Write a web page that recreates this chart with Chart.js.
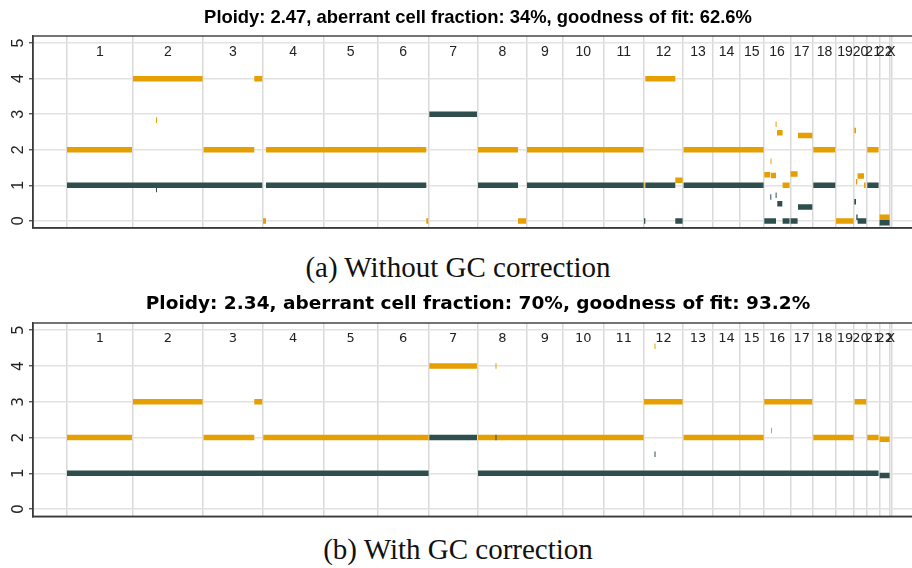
<!DOCTYPE html>
<html>
<head>
<meta charset="utf-8">
<script src="https://cdn.jsdelivr.net/npm/chart.js@4.4.0/dist/chart.umd.min.js"></script>
<style>
  html, body { margin: 0; padding: 0; background: #fff; overflow: hidden; width: 912px; height: 568px; }
  .panel { position: absolute; left: 0; width: 940px; height: 240px; }
  .caption {
    position: absolute; left: 0; width: 916px; text-align: center;
    font-family: "Liberation Serif", "Times New Roman", serif;
    font-size: 29px; line-height: 29px; color: #111; white-space: nowrap;
  }
</style>
</head>
<body>
<div class="panel" style="top:0px"><canvas id="chartA"></canvas></div>
<div class="caption" style="top:253px">(a) Without GC correction</div>
<div class="panel" style="top:287px"><canvas id="chartB"></canvas></div>
<div class="caption" style="top:535px">(b) With GC correction</div>
<script>
// Chromosome layout along the genome axis (cumulative position units)
const chromosomes = ['1','2','3','4','5','6','7','8','9','10','11','12','13','14','15','16','17','18','19','20','21','22','X'];
const chromStarts = [0, 66, 136, 195.6, 256.6, 310.6, 361.6, 410.6, 460, 496, 536.6, 577, 616, 646, 673, 696.6, 723.3, 746, 769, 787, 800, 812.3, 823];
const genomeEnd = 824.6;
const cnTicks = [0, 1, 2, 3, 4, 5];

const titleA = 'Ploidy: 2.47, aberrant cell fraction: 34%, goodness of fit: 62.6%';
const titleB = 'Ploidy: 2.34, aberrant cell fraction: 70%, goodness of fit: 93.2%';

// Segments: [start, end, copy number]
// Without GC correction
const majorA = [
  [0, 65, 2], [66, 135.6, 4], [89, 90, 2.83], [136.6, 187.3, 2], [187.3, 195.3, 4],
  [196, 199, 0], [199, 359.3, 2], [359.3, 361.3, 0],
  [411, 451, 2], [451, 459.3, 0], [460, 576.6, 2], [576.6, 577.6, 1],
  [578.3, 608.3, 4], [608.3, 615.6, 1.14], [616.6, 696.6, 2],
  [697.3, 703.3, 1.3], [703.5, 704.5, 1.68], [704, 709, 1.28], [708.6, 709.6, 2.72],
  [710, 715.6, 2.48], [715.6, 722.6, 1], [723.6, 730.6, 1.32], [731, 745.3, 2.4],
  [746.3, 768.3, 2], [769, 786.6, 0], [787.3, 789, 2.54], [789, 790.3, 1.1],
  [790.6, 797, 1.26], [797, 798.6, 1], [800.3, 811.6, 2], [812.6, 822.6, 0.1]
];
const minorA = [
  [0, 195.3, 1], [89, 90, 0.88], [199, 359.3, 1], [362.3, 410, 3], [411, 451, 1],
  [460, 576.6, 1], [577, 578.3, 0], [578.3, 608.3, 1], [608.3, 615.6, 0],
  [616.6, 696.6, 1], [697.3, 709, 0], [703.3, 704.3, 0.67], [708.6, 709.6, 0.72],
  [710.3, 715.3, 0.48], [715.6, 722.6, 0], [723.6, 730.6, 0], [731, 745.3, 0.39],
  [746.3, 768.3, 1], [787.3, 789, 0.54], [789.3, 790.6, 0.1], [790.6, 799.3, 0],
  [800.3, 811.6, 1], [812.6, 822.6, -0.05]
];
// With GC correction
const majorB = [
  [0, 65, 2], [66, 135.6, 3], [136.6, 187.3, 2], [187.3, 195.3, 3],
  [196.3, 361.6, 2], [362.3, 410, 4], [411, 576.6, 2], [428.5, 429.5, 4],
  [577, 615.6, 3], [587.5, 588.5, 4.55], [616.6, 696.6, 2], [697.3, 745.3, 3],
  [704, 705, 2.2], [746.3, 786.6, 2], [787.6, 799.3, 3], [800.3, 811.6, 2],
  [812.6, 822.6, 1.95]
];
const minorB = [
  [0, 361.6, 1], [362.3, 410, 2], [411, 811.6, 1], [428.5, 429.5, 2],
  [587.5, 588.5, 1.53], [812.6, 822.6, 0.94]
];

const ORANGE = '#E69F00';
const DARK = '#2F4F4F';
const FRAME = '#3a3a3a';

function toPoints(segs) {
  const pts = [];
  segs.forEach(([s, e, cn]) => {
    pts.push({ x: s, y: cn }, { x: e, y: cn }, { x: e, y: null });
  });
  return pts;
}

const boundaries = chromStarts.concat([genomeEnd]);

// Frame, chromosome names, rotated copy-number labels and panel title
const panelDecor = {
  id: 'panelDecor',
  afterDatasetsDraw(chart, args, opts) {
    const { ctx, chartArea: a, scales: { x, y } } = chart;
    ctx.save();
    ctx.strokeStyle = FRAME;
    ctx.lineWidth = 1.4;
    ctx.strokeRect(a.left, a.top, a.right - a.left, a.bottom - a.top);

    ctx.fillStyle = '#222';
    ctx.font = opts.labelFont;
    ctx.textAlign = 'center';
    ctx.textBaseline = 'alphabetic';
    chromosomes.forEach((c, i) => {
      const s = chromStarts[i];
      const e = i + 1 < chromStarts.length ? chromStarts[i + 1] : genomeEnd;
      ctx.fillText(c, x.getPixelForValue((s + e) / 2), a.top + opts.labelOffset);
    });

    ctx.font = opts.tickFont;
    ctx.textAlign = 'center';
    ctx.textBaseline = 'middle';
    cnTicks.forEach(v => {
      ctx.save();
      ctx.translate(opts.tickX, y.getPixelForValue(v));
      ctx.rotate(-Math.PI / 2);
      ctx.fillText(String(v), 0, 0);
      ctx.restore();
    });

    ctx.fillStyle = '#000';
    ctx.font = opts.titleFont;
    ctx.textAlign = 'center';
    ctx.textBaseline = 'middle';
    ctx.fillText(opts.title, (a.left + a.right) / 2, opts.titleY);
    ctx.restore();
  }
};

function makePanel(id, major, minor, cfg) {
  return new Chart(document.getElementById(id), {
    type: 'line',
    data: {
      datasets: [
        { data: toPoints(minor), borderColor: DARK, backgroundColor: DARK },
        { data: toPoints(major), borderColor: ORANGE, backgroundColor: ORANGE }
      ]
    },
    options: {
      responsive: true,
      maintainAspectRatio: false,
      animation: false,
      devicePixelRatio: 1,
      spanGaps: false,
      layout: { padding: { top: cfg.padTop, bottom: cfg.padBottom, left: 0, right: 17 } },
      elements: {
        point: { radius: 0, hoverRadius: 0 },
        line: { borderWidth: 5.5, borderCapStyle: 'butt', tension: 0, fill: false }
      },
      plugins: {
        legend: { display: false },
        tooltip: { enabled: false },
        title: { display: false },
        panelDecor: cfg.decor
      },
      scales: {
        x: {
          type: 'linear', min: -34, max: 856,
          afterBuildTicks: s => { s.ticks = boundaries.map(v => ({ value: v })); },
          afterFit: s => { s.height = 0; },
          ticks: { display: false },
          grid: { color: '#d9d9d9', lineWidth: 1.5, drawTicks: false },
          border: { display: true, color: FRAME, width: 1.4 }
        },
        y: {
          type: 'linear', min: -0.2, max: 5.2,
          afterBuildTicks: s => { s.ticks = cnTicks.map(v => ({ value: v })); },
          afterFit: s => { s.width = 33; },
          ticks: { display: false },
          grid: { color: '#e2e2e2', lineWidth: 1.5, drawTicks: true, tickLength: 4, tickColor: FRAME, tickWidth: 1.2 },
          border: { display: true, color: FRAME, width: 1.4 }
        }
      }
    },
    plugins: [panelDecor]
  });
}

makePanel('chartA', majorA, minorA, {
  padTop: 36, padBottom: 12,
  decor: {
    title: titleA, titleY: 18, titleFont: 'bold 18.4px "Liberation Sans", Arial, sans-serif',
    labelFont: '14px "Liberation Sans", Arial, sans-serif', labelOffset: 20,
    tickFont: '16px "Liberation Sans", Arial, sans-serif', tickX: 18.5
  }
});

makePanel('chartB', majorB, minorB, {
  padTop: 36, padBottom: 10.7,
  decor: {
    title: titleB, titleY: 17.5, titleFont: 'bold 18.5px "DejaVu Sans", sans-serif',
    labelFont: '13px "DejaVu Sans", sans-serif', labelOffset: 19,
    tickFont: '15.5px "DejaVu Sans", sans-serif', tickX: 18.5
  }
});
</script>
</body>
</html>
